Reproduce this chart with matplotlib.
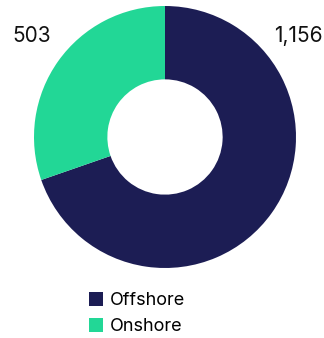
import matplotlib
matplotlib.use("Agg")
import matplotlib.pyplot as plt
from matplotlib.patches import Patch

categories = ["Offshore", "Onshore"]
values = [1156, 503]
labels = ["1,156", "503"]
colors = ["#1c1d54", "#22d796"]

plt.rcParams['font.family'] = ['Inter', 'DejaVu Sans']

W, H = 324, 338
fig = plt.figure(figsize=(W/100, H/100), dpi=100)
cx, cy, r = 165, 137, 131
ax = fig.add_axes([(cx - r)/W, (H - cy - r)/H, 2*r/W, 2*r/H])
wedges, _ = ax.pie(values, colors=colors, startangle=90, counterclock=False,
                   radius=1, wedgeprops=dict(width=0.56, linewidth=0))
ax.set_xlim(-1, 1); ax.set_ylim(-1, 1)
ax.set_aspect('equal')
ax.axis('off')

ax.text(1.015, 0.771, labels[0], ha='center', va='center', fontsize=15, color='#111111', clip_on=False)
ax.text(-1.015, 0.771, labels[1], ha='center', va='center', fontsize=15, color='#111111', clip_on=False)

handles = [Patch(facecolor=c, edgecolor='none') for c in colors]
fig.legend(handles, categories, loc='upper left', bbox_to_anchor=(89/W, 1 - 292/H),
           frameon=False, fontsize=13, handlelength=0.8, handleheight=0.8,
           handletextpad=0.35, labelspacing=0.5, borderaxespad=0, borderpad=0)

fig.savefig("out.png", dpi=100)
